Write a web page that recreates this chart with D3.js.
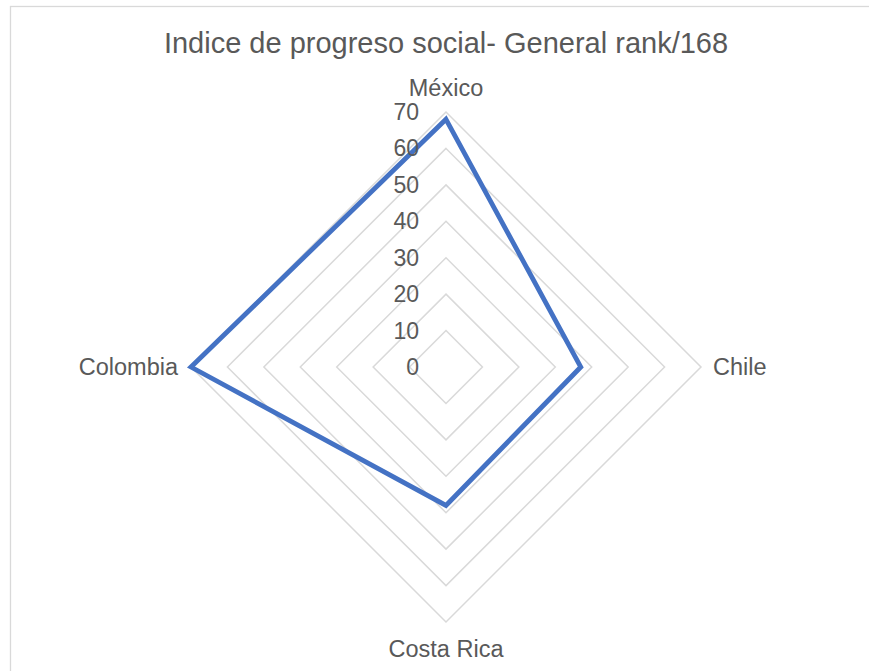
<!DOCTYPE html>
<html><head><meta charset="utf-8">
<script src="https://cdn.jsdelivr.net/npm/d3@7"></script>
<style>body{margin:0;background:#fff}svg{display:block}text{font-family:"Liberation Sans",Arial,sans-serif}</style>
</head><body>
<svg id="c" width="869" height="671"></svg>
<script>
const title = "Indice de progreso social- General rank/168";
const categories = ["México", "Chile", "Costa Rica", "Colombia"];
const values = [68, 37, 38, 70];
const ticks = [0, 10, 20, 30, 40, 50, 60, 70];

const svg = d3.select("#c");
const cx = 446, cy = 367, R = 255;
const r = d3.scaleLinear().domain([0, 70]).range([0, R]);
const ang = d3.scalePoint().domain(categories).range([0, 2 * Math.PI * (categories.length - 1) / categories.length]);
const pt = (c, v) => [cx + r(v) * Math.sin(ang(c)), cy - r(v) * Math.cos(ang(c))];

svg.append("rect").attr("x", 10.5).attr("y", 6.5).attr("width", 870).attr("height", 700)
  .attr("fill", "#fff").attr("stroke", "#d9d9d9").attr("stroke-width", 1.3);

svg.append("text").attr("x", 446).attr("y", 53).attr("text-anchor", "middle")
  .attr("font-size", 29).attr("fill", "#595959").text(title);

const line = d3.line().curve(d3.curveLinearClosed);
svg.append("g").selectAll("path").data(ticks.filter(t => t > 0)).join("path")
  .attr("d", t => line(categories.map(c => pt(c, t))))
  .attr("fill", "none").attr("stroke", "#d9d9d9").attr("stroke-width", 1.5);

svg.append("path").attr("d", line(categories.map((c, i) => pt(c, values[i]))))
  .attr("fill", "none").attr("stroke", "#4472C4").attr("stroke-width", 4.8).attr("stroke-linejoin", "miter");

svg.append("g").selectAll("text").data(ticks).join("text")
  .attr("x", 419).attr("y", t => cy - r(t)).attr("dy", "0.35em")
  .attr("text-anchor", "end").attr("font-size", 23).attr("fill", "#595959").text(t => t);

const lab = svg.append("g").attr("font-size", 23.5).attr("fill", "#595959");
lab.append("text").attr("x", cx).attr("y", 96).attr("text-anchor", "middle").text(categories[0]);
lab.append("text").attr("x", 713).attr("y", cy).attr("dy", "0.35em").attr("text-anchor", "start").text(categories[1]);
lab.append("text").attr("x", cx).attr("y", 657).attr("text-anchor", "middle").text(categories[2]);
lab.append("text").attr("x", 178).attr("y", cy).attr("dy", "0.35em").attr("text-anchor", "end").text(categories[3]);
</script>
</body></html>
